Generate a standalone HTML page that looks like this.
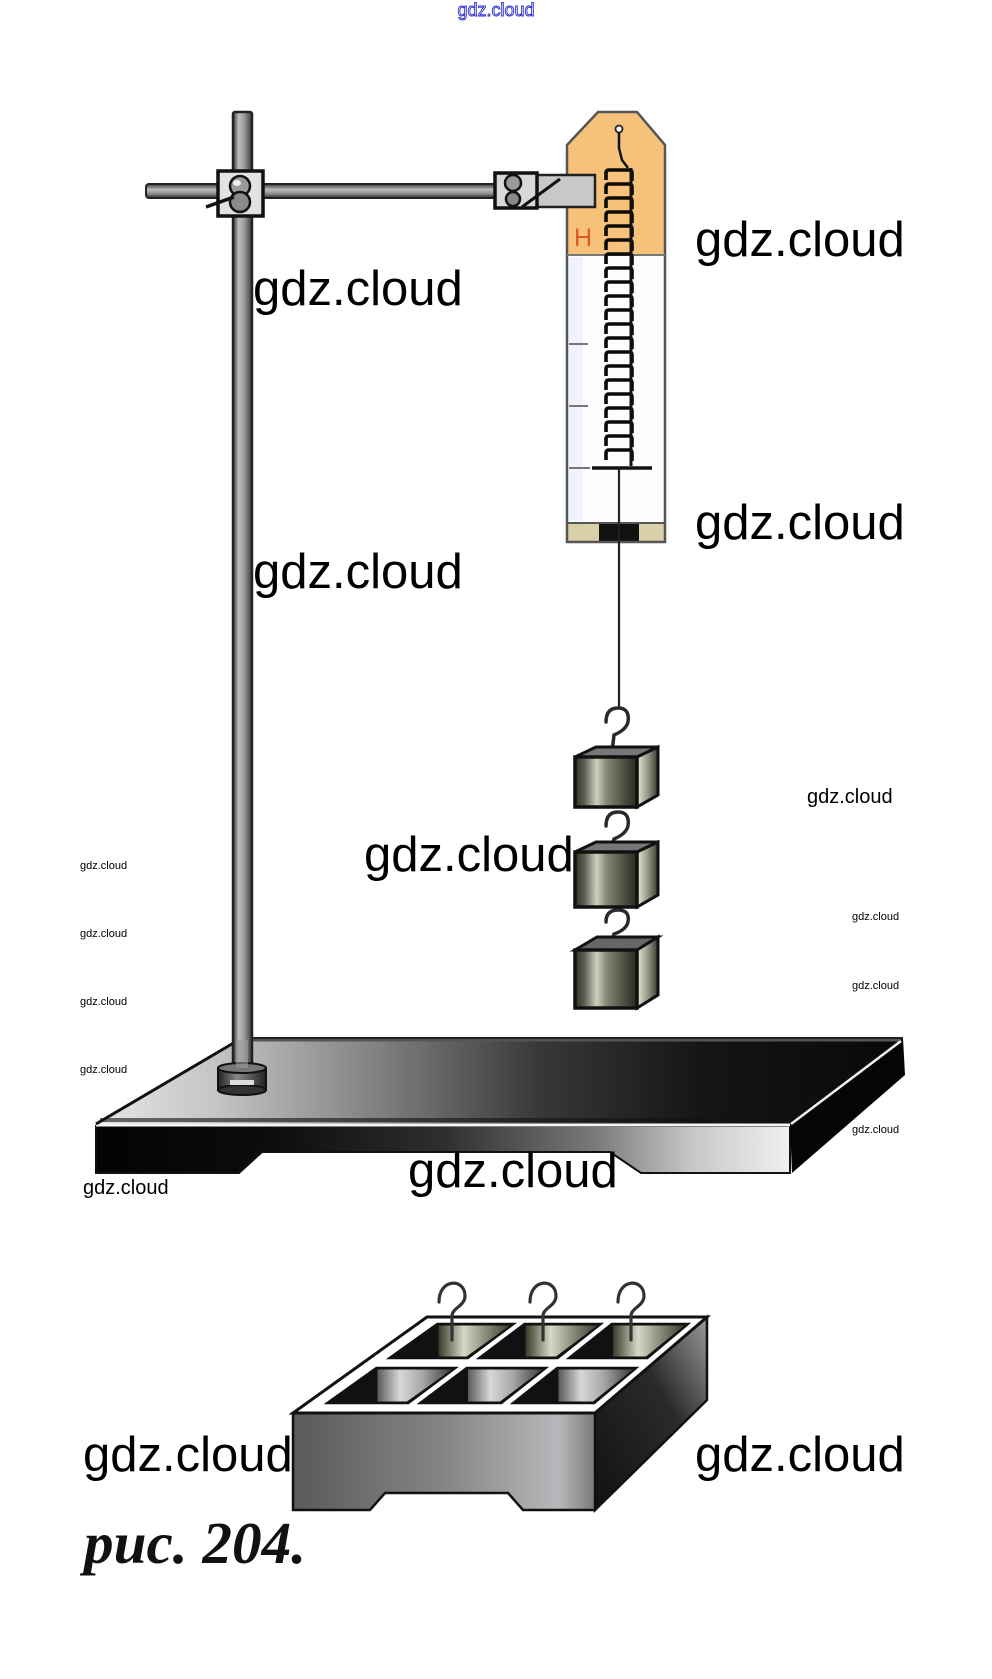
<!DOCTYPE html>
<html>
<head>
<meta charset="utf-8">
<style>
html,body{margin:0;padding:0;background:#fff;}
body{width:992px;height:1679px;overflow:hidden;}
svg{display:block;}
</style>
</head>
<body>
<svg width="992" height="1679" viewBox="0 0 992 1679" xmlns="http://www.w3.org/2000/svg">
<defs>
  <linearGradient id="rodg" x1="0" y1="0" x2="1" y2="0">
    <stop offset="0" stop-color="#333"/>
    <stop offset="0.3" stop-color="#bdbdbd"/>
    <stop offset="0.6" stop-color="#9a9a9a"/>
    <stop offset="1" stop-color="#3a3a3a"/>
  </linearGradient>
  <linearGradient id="barg" x1="0" y1="0" x2="0" y2="1">
    <stop offset="0" stop-color="#333"/>
    <stop offset="0.4" stop-color="#bdbdbd"/>
    <stop offset="0.7" stop-color="#8a8a8a"/>
    <stop offset="1" stop-color="#2a2a2a"/>
  </linearGradient>
  <linearGradient id="topg" x1="96" y1="0" x2="903" y2="0" gradientUnits="userSpaceOnUse">
    <stop offset="0" stop-color="#e6e6e6"/>
    <stop offset="0.15" stop-color="#c4c4c4"/>
    <stop offset="0.35" stop-color="#808080"/>
    <stop offset="0.55" stop-color="#383838"/>
    <stop offset="0.75" stop-color="#151515"/>
    <stop offset="1" stop-color="#080808"/>
  </linearGradient>
  <linearGradient id="frontg" x1="96" y1="0" x2="790" y2="0" gradientUnits="userSpaceOnUse">
    <stop offset="0" stop-color="#030303"/>
    <stop offset="0.25" stop-color="#0c0c0c"/>
    <stop offset="0.5" stop-color="#2e2e2e"/>
    <stop offset="0.72" stop-color="#7a7a7a"/>
    <stop offset="0.86" stop-color="#c8c8c8"/>
    <stop offset="1" stop-color="#f0f0f0"/>
  </linearGradient>
  <linearGradient id="wg" x1="0" y1="0" x2="1" y2="0">
    <stop offset="0" stop-color="#2e2e26"/>
    <stop offset="0.15" stop-color="#5e5e50"/>
    <stop offset="0.35" stop-color="#cfcfc0"/>
    <stop offset="0.5" stop-color="#8a8a78"/>
    <stop offset="0.75" stop-color="#55554a"/>
    <stop offset="1" stop-color="#2a2a22"/>
  </linearGradient>
  <linearGradient id="wsg" x1="0" y1="0" x2="1" y2="0">
    <stop offset="0" stop-color="#e8e8dc"/>
    <stop offset="0.5" stop-color="#9a9a88"/>
    <stop offset="1" stop-color="#3a3a30"/>
  </linearGradient>
  <linearGradient id="trayf" x1="0" y1="0" x2="1" y2="0">
    <stop offset="0" stop-color="#5a5a5a"/>
    <stop offset="0.5" stop-color="#858585"/>
    <stop offset="0.88" stop-color="#b8b8bc"/>
    <stop offset="1" stop-color="#7a7a7a"/>
  </linearGradient>
  <linearGradient id="trays" x1="0" y1="1" x2="1" y2="0">
    <stop offset="0" stop-color="#111"/>
    <stop offset="0.6" stop-color="#2a2a2a"/>
    <stop offset="1" stop-color="#9a9a9a"/>
  </linearGradient>
  <linearGradient id="cylf" x1="0" y1="0" x2="1" y2="0">
    <stop offset="0" stop-color="#5a5a5a"/>
    <stop offset="0.3" stop-color="#d8d8d8"/>
    <stop offset="0.6" stop-color="#a8a8a8"/>
    <stop offset="1" stop-color="#3a3a3a"/>
  </linearGradient>
  <linearGradient id="cylb" x1="0" y1="0" x2="1" y2="0">
    <stop offset="0" stop-color="#3a3a2a"/>
    <stop offset="0.35" stop-color="#d8d8c8"/>
    <stop offset="0.6" stop-color="#9a9a88"/>
    <stop offset="1" stop-color="#3a3a30"/>
  </linearGradient>
  <linearGradient id="footg" x1="0" y1="0" x2="1" y2="0">
    <stop offset="0" stop-color="#222"/>
    <stop offset="0.4" stop-color="#888"/>
    <stop offset="0.7" stop-color="#555"/>
    <stop offset="1" stop-color="#222"/>
  </linearGradient>
</defs>

<!-- top blue outlined watermark -->
<text x="496" y="16" text-anchor="middle" font-family="Liberation Sans, sans-serif" font-size="18" fill="#fff" stroke="#2b2bd0" stroke-width="0.9">gdz.cloud</text>

<!-- ===== BASE PLATFORM ===== -->
<polygon points="242,1038 903,1038 790,1124 96,1124" fill="url(#topg)"/>
<line x1="250" y1="1040" x2="903" y2="1040" stroke="#555" stroke-width="3"/>
<line x1="100" y1="1120" x2="792" y2="1120" stroke="#111" stroke-width="4" opacity="0.6"/>
<polygon points="96,1126 790,1126 790,1173 641,1173 610,1152 262,1152 239,1173 96,1173" fill="url(#frontg)" stroke="#111" stroke-width="2"/>
<polygon points="790,1124 903,1038 905,1075 792,1173" fill="#050505"/>
<line x1="96" y1="1125" x2="790" y2="1125" stroke="#f4f4f4" stroke-width="3"/>
<line x1="791" y1="1124" x2="901" y2="1041" stroke="#f0f0f0" stroke-width="2.5"/>
<line x1="242" y1="1038" x2="96" y2="1124" stroke="#111" stroke-width="3"/>
<line x1="242" y1="1038" x2="903" y2="1038" stroke="#222" stroke-width="2"/>

<!-- ===== VERTICAL ROD ===== -->
<rect x="233" y="112" width="19" height="960" rx="2" fill="url(#rodg)" stroke="#222" stroke-width="2.5"/>
<!-- foot -->
<rect x="218" y="1068" width="48" height="22" fill="url(#footg)" stroke="#111" stroke-width="2"/>
<ellipse cx="242" cy="1090" rx="24" ry="5" fill="#333" stroke="#111" stroke-width="2"/>
<ellipse cx="242" cy="1068" rx="24" ry="5" fill="#777" stroke="#111" stroke-width="2"/>
<rect x="230" y="1080" width="24" height="5" fill="#ddd"/>
<rect x="236" y="1040" width="12" height="28" fill="#9a9a9a" opacity="0.6"/>

<!-- ===== HORIZONTAL BAR ===== -->
<rect x="146" y="184" width="352" height="14" rx="3" fill="url(#barg)" stroke="#222" stroke-width="2"/>

<!-- left clamp -->
<rect x="218" y="171" width="45" height="45" fill="#e2e2e2" stroke="#111" stroke-width="3.5"/>
<circle cx="240" cy="186" r="10" fill="#9a9a9a" stroke="#111" stroke-width="2.5"/>
<circle cx="240" cy="202" r="10" fill="#8a8a8a" stroke="#111" stroke-width="2.5"/>
<ellipse cx="237" cy="183" rx="4" ry="3" fill="#eee"/>
<line x1="206" y1="207" x2="234" y2="197" stroke="#111" stroke-width="3.5"/>

<!-- ===== SPRING SCALE ===== -->
<polygon points="567,145 598,112 637,112 665,145 665,255 567,255" fill="#f6c27a"/>
<rect x="567" y="255" width="98" height="268" fill="#fdfdfd"/>
<rect x="569" y="257" width="14" height="264" fill="#eef4fa"/>
<rect x="567" y="523" width="98" height="19" fill="#d8d0a6"/>
<rect x="599" y="523" width="40" height="19" fill="#111"/>
<path d="M567,145 L598,112 L637,112 L665,145 L665,542 L567,542 Z" fill="none" stroke="#555" stroke-width="2.5"/>
<line x1="567" y1="255" x2="665" y2="255" stroke="#777" stroke-width="2"/>
<line x1="567" y1="523" x2="665" y2="523" stroke="#555" stroke-width="2"/>
<text x="574" y="246" font-family="Liberation Sans, sans-serif" font-size="25" fill="#e05a20">H</text>
<!-- ticks -->
<line x1="569" y1="344" x2="588" y2="344" stroke="#777" stroke-width="2"/>
<line x1="569" y1="406" x2="588" y2="406" stroke="#777" stroke-width="2"/>
<line x1="569" y1="468" x2="590" y2="468" stroke="#777" stroke-width="2"/>
<!-- top ring and wire -->
<circle cx="619" cy="129" r="3.5" fill="#fff" stroke="#222" stroke-width="1.8"/>
<path d="M619,133 L619,148 L622,160 L628,168" fill="none" stroke="#111" stroke-width="2.5"/>
<!-- coils -->
<g fill="none" stroke="#0a0a0a" stroke-width="3.6">
<path d="M606,180 V173 Q606,170 609,170 H629 Q632,170 632,173 V181
M606,194 V187 Q606,184 609,184 H629 Q632,184 632,187 V195
M606,208 V201 Q606,198 609,198 H629 Q632,198 632,201 V209
M606,222 V215 Q606,212 609,212 H629 Q632,212 632,215 V223
M606,236 V229 Q606,226 609,226 H629 Q632,226 632,229 V237
M606,250 V243 Q606,240 609,240 H629 Q632,240 632,243 V251
M606,264 V257 Q606,254 609,254 H629 Q632,254 632,257 V265
M606,278 V271 Q606,268 609,268 H629 Q632,268 632,271 V279
M606,292 V285 Q606,282 609,282 H629 Q632,282 632,285 V293
M606,306 V299 Q606,296 609,296 H629 Q632,296 632,299 V307
M606,320 V313 Q606,310 609,310 H629 Q632,310 632,313 V321
M606,334 V327 Q606,324 609,324 H629 Q632,324 632,327 V335
M606,348 V341 Q606,338 609,338 H629 Q632,338 632,341 V349
M606,362 V355 Q606,352 609,352 H629 Q632,352 632,355 V363
M606,376 V369 Q606,366 609,366 H629 Q632,366 632,369 V377
M606,390 V383 Q606,380 609,380 H629 Q632,380 632,383 V391
M606,404 V397 Q606,394 609,394 H629 Q632,394 632,397 V405
M606,418 V411 Q606,408 609,408 H629 Q632,408 632,411 V419
M606,432 V425 Q606,422 609,422 H629 Q632,422 632,425 V433
M606,446 V439 Q606,436 609,436 H629 Q632,436 632,439 V447
M606,460 V453 Q606,450 609,450 H629 Q632,450 632,453 V461"/>
</g>
<line x1="631" y1="168" x2="631" y2="466" stroke="#111" stroke-width="3"/>
<!-- pointer -->
<line x1="592" y1="468" x2="652" y2="468" stroke="#111" stroke-width="3.5"/>
<!-- string -->
<line x1="619" y1="468" x2="619" y2="708" stroke="#222" stroke-width="2.2"/>

<!-- right clamp (drawn over scale) -->
<rect x="537" y="175" width="58" height="32" fill="#c8c8c8" stroke="#222" stroke-width="2.5"/>
<rect x="495" y="173" width="42" height="35" fill="#d8d8d8" stroke="#111" stroke-width="3.5"/>
<circle cx="513" cy="183" r="8" fill="#9a9a9a" stroke="#111" stroke-width="2.5"/>
<circle cx="513" cy="199" r="7" fill="#8a8a8a" stroke="#111" stroke-width="2.5"/>
<line x1="522" y1="207" x2="560" y2="179" stroke="#111" stroke-width="3"/>

<!-- ===== WEIGHTS ===== -->
<g fill="none" stroke="#2a2a2a" stroke-width="3.5" stroke-linecap="round">
  <path d="M606,722 Q606,708 618,708 Q630,708 628,722 Q626,730 614,735 L612,752"/>
  <path d="M606,826 Q606,812 618,812 Q630,812 628,826 Q626,834 614,839 L612,848"/>
  <path d="M606,922 Q606,910 618,910 Q630,910 628,922 Q626,930 614,934 L612,940"/>
</g>
<!-- box 1 -->
<polygon points="575,757 596,747 658,747 637,757" fill="#777" stroke="#111" stroke-width="3"/>
<polygon points="637,757 658,747 658,795 637,807" fill="url(#wsg)" stroke="#111" stroke-width="3"/>
<rect x="575" y="757" width="62" height="50" fill="url(#wg)" stroke="#111" stroke-width="3.5"/>
<!-- box 2 -->
<polygon points="575,852 596,842 658,842 637,852" fill="#777" stroke="#111" stroke-width="3"/>
<polygon points="637,852 658,842 658,895 637,907" fill="url(#wsg)" stroke="#111" stroke-width="3"/>
<rect x="575" y="852" width="62" height="55" fill="url(#wg)" stroke="#111" stroke-width="3.5"/>
<!-- box 3 -->
<polygon points="575,950 597,937 658,937 637,950" fill="#666" stroke="#111" stroke-width="3"/>
<polygon points="637,950 658,937 658,995 637,1008" fill="url(#wsg)" stroke="#111" stroke-width="3"/>
<rect x="575" y="950" width="62" height="58" fill="url(#wg)" stroke="#111" stroke-width="3.5"/>

<!-- ===== TRAY ===== -->
<polygon points="595,1413 707,1317 707,1400 595,1510" fill="url(#trays)" stroke="#111" stroke-width="2.5"/>
<polygon points="293,1413 595,1413 595,1510 523,1510 508,1493 385,1493 370,1510 293,1510" fill="url(#trayf)" stroke="#111" stroke-width="2.5"/>
<polygon points="293,1413 427,1317 707,1317 595,1413" fill="#fff" stroke="#111" stroke-width="3"/>
<g fill="#111" stroke="#111" stroke-width="2.5">
  <polygon points="327.4,1403 408.3,1403 455.2,1368 376.4,1368"/>
  <polygon points="420.3,1403 501.3,1403 545.6,1368 466.8,1368"/>
  <polygon points="513.3,1403 594.2,1403 636,1368 557.3,1368"/>
  <polygon points="389.7,1358 467.8,1358 513.3,1324 437.3,1324"/>
  <polygon points="479.4,1358 557.6,1358 600.6,1324 524.6,1324"/>
  <polygon points="569.2,1358 647.3,1358 687.8,1324 611.8,1324"/>
</g>
<g fill="url(#cylf)">
  <polygon points="377.5,1369.5 452,1369.5 407,1401.5 377.5,1401.5"/>
  <polygon points="468,1369.5 542.5,1369.5 500,1401.5 468,1401.5"/>
  <polygon points="558.5,1369.5 633,1369.5 593,1401.5 558.5,1401.5"/>
</g>
<g fill="url(#cylb)">
  <polygon points="438.5,1325.5 510,1325.5 466.5,1356.5 438.5,1356.5"/>
  <polygon points="525.5,1325.5 597.5,1325.5 556,1356.5 525.5,1356.5"/>
  <polygon points="613,1325.5 684.5,1325.5 646,1356.5 613,1356.5"/>
</g>
<g fill="none" stroke="#333" stroke-width="3.2" stroke-linecap="round">
  <path d="M439,1302 C439,1278 465,1278 465,1296 C465,1306 452,1308 452,1316 L452,1340"/>
  <path d="M530,1302 C530,1278 556,1278 556,1296 C556,1306 543,1308 543,1316 L543,1340"/>
  <path d="M618,1302 C618,1278 644,1278 644,1296 C644,1306 631,1308 631,1316 L631,1340"/>
</g>

<!-- ===== WATERMARKS ===== -->
<g font-family="Liberation Sans, sans-serif" fill="#000">
  <text x="253" y="305" font-size="49">gdz.cloud</text>
  <text x="695" y="256" font-size="49">gdz.cloud</text>
  <text x="253" y="588" font-size="49">gdz.cloud</text>
  <text x="695" y="539" font-size="49">gdz.cloud</text>
  <text x="364" y="871" font-size="49">gdz.cloud</text>
  <text x="408" y="1187" font-size="49">gdz.cloud</text>
  <text x="83" y="1471" font-size="49">gdz.cloud</text>
  <text x="695" y="1471" font-size="49">gdz.cloud</text>

  <text x="807" y="803" font-size="20">gdz.cloud</text>
  <text x="83" y="1194" font-size="20">gdz.cloud</text>

  <text x="80" y="869" font-size="11">gdz.cloud</text>
  <text x="80" y="937" font-size="11">gdz.cloud</text>
  <text x="80" y="1005" font-size="11">gdz.cloud</text>
  <text x="80" y="1073" font-size="11">gdz.cloud</text>
  <text x="852" y="920" font-size="11">gdz.cloud</text>
  <text x="852" y="989" font-size="11">gdz.cloud</text>
  <text x="852" y="1133" font-size="11">gdz.cloud</text>
</g>

<!-- caption -->
<text x="84" y="1563" font-family="Liberation Serif, serif" font-size="59" font-weight="bold" font-style="italic" textLength="222" lengthAdjust="spacingAndGlyphs" fill="#111">рис. 204.</text>
</svg>
</body>
</html>
